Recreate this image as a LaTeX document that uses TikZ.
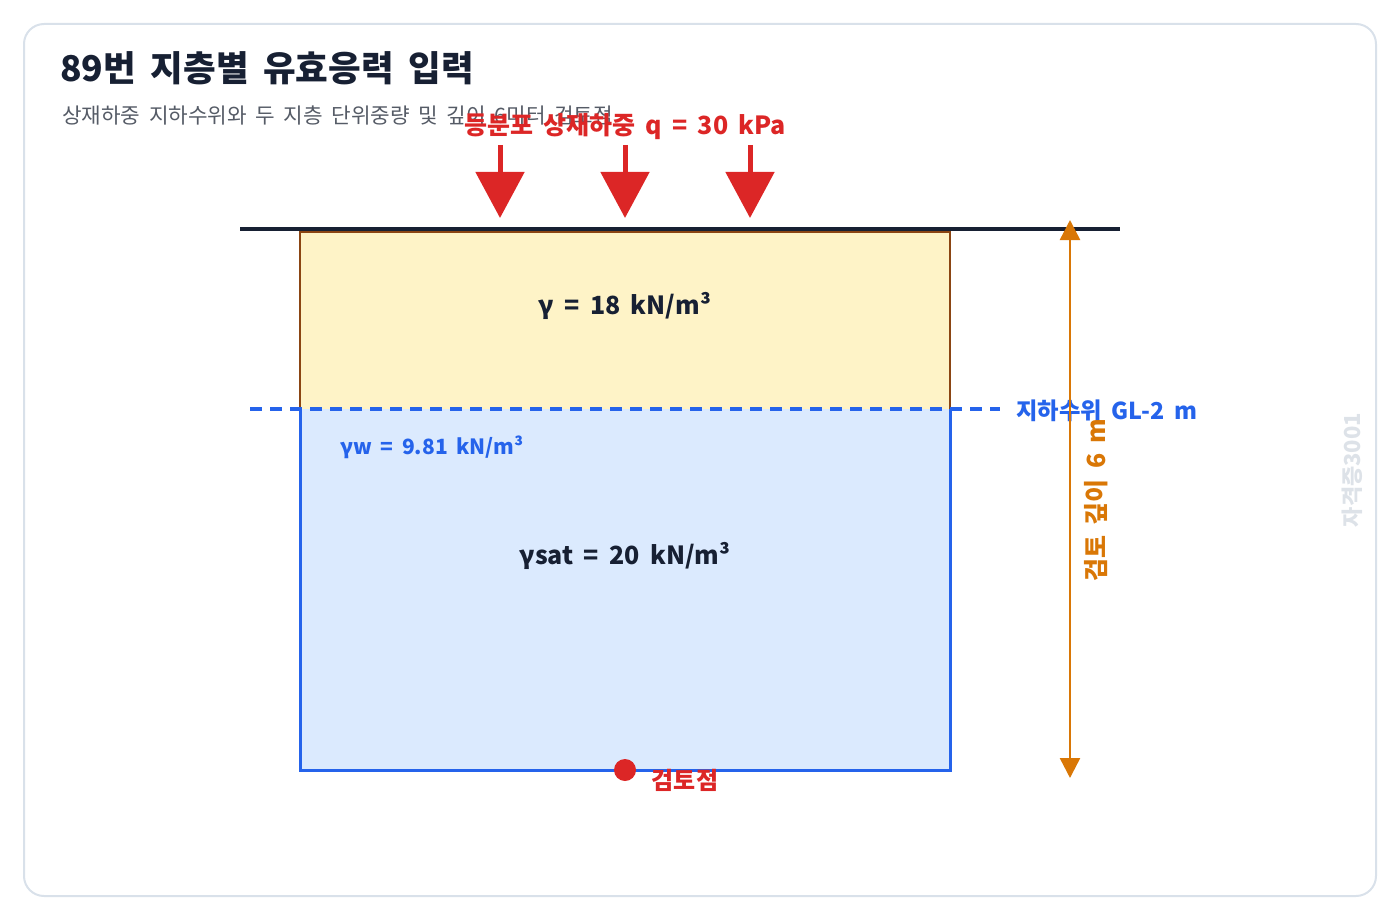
\documentclass[tikz,border=0pt]{standalone}
\usepackage{fontspec}
\setmainfont{Noto Sans CJK KR}[WordSpace=1.8]
\usetikzlibrary{arrows.meta}
\definecolor{cardline}{HTML}{D9E1EA}
\definecolor{ink}{HTML}{172033}
\definecolor{subgray}{HTML}{555B66}
\definecolor{loadred}{HTML}{DC2626}
\definecolor{sandfill}{HTML}{FEF3C7}
\definecolor{sandline}{HTML}{8B4513}
\definecolor{waterfill}{HTML}{DBEAFE}
\definecolor{waterblue}{HTML}{2563EB}
\definecolor{dimorange}{HTML}{D97706}
\definecolor{wmark}{HTML}{DDE2E8}
\tikzset{
  loadarrow/.style={draw=loadred, line width=5pt, -{Triangle[length=46pt,width=48pt]}},
  dimarrow/.style={draw=dimorange, line width=2.5pt, {Triangle[length=20pt,width=20pt]}-{Triangle[length=20pt,width=20pt]}},
  lbl/.style={inner sep=0pt, font=\bfseries},
}
\begin{document}
\begin{tikzpicture}[x=1pt,y=-1pt]
\useasboundingbox (0,0) rectangle (1400,920);
% card
\draw[cardline, line width=2pt, rounded corners=20pt] (24,24) rectangle (1376,896);
% title
\node[anchor=west, inner sep=0pt, text=ink, font=\fontsize{35.5}{38}\selectfont\bfseries] (title) at (60,68) {89번 지층별 유효응력 입력};
\node[anchor=west, inner sep=0pt, text=subgray, font=\fontsize{21.3}{24}\selectfont] (sub) at (62,116) {상재하중 지하수위와 두 지층 단위중량 및 깊이 6미터 검토점};
% layers
\fill[sandfill] (300,231) rectangle (950,409);
\draw[sandline, line width=2.5pt] (300,409) -- (300,231.5) -- (950,231.5) -- (950,409);
\fill[waterfill] (300,409) rectangle (950,770);
\draw[waterblue, line width=3pt] (300,409) -- (300,770) -- (950,770) -- (950,409);
% ground line
\draw[ink, line width=4.5pt] (240,229) -- (1120,229);
% water table
\coordinate (wl0) at (250,409);
\coordinate (wl1) at (1000,409);
\draw[waterblue, line width=4pt, dash pattern=on 12pt off 8pt] (wl0) -- (wl1);
\node[lbl, anchor=west, text=waterblue, font=\fontsize{23.3}{26}\selectfont\bfseries] (wt) at (1016,411) {지하수위 GL-2 m};
% load
\node[lbl, text=loadred, font=\fontsize{25}{28}\selectfont\bfseries] (load) at (625,127) {등분포 상재하중 q = 30 kPa};
\foreach \x/\n in {500/a,625/b,750/c}{
  \coordinate (s\n) at (\x,145);
  \coordinate (e\n) at (\x,218);
  \draw[loadarrow] (s\n) -- (e\n);
}
% layer texts
\node[lbl, text=ink, font=\fontsize{25}{28}\selectfont\bfseries] (g1) at (625,306) {γ = 18 kN/m³};
\node[lbl, anchor=west, text=waterblue, font=\fontsize{21}{24}\selectfont\bfseries] (gw) at (340,447) {γw = 9.81 kN/m³};
\node[lbl, text=ink, font=\fontsize{25}{28}\selectfont\bfseries] (g2) at (625,556) {γsat = 20 kN/m³};
% check point
\node[circle, fill=loadred, minimum size=22pt, inner sep=0pt] (pt) at (625,770) {};
\node[inner sep=0pt, text=loadred, font=\fontsize{24}{27}\selectfont\bfseries] (ptl) at (685,780) {검토점};
% dimension
\coordinate (d0) at (1070,220);
\coordinate (d1) at (1070,778);
\draw[dimarrow] (d0) -- (d1);
\node[lbl, rotate=90, text=dimorange, font=\fontsize{25}{28}\selectfont\bfseries] (dl) at (1096,500) {검토 깊이 6 m};
% watermark
\node[inner sep=0pt, rotate=90, text=wmark, font=\fontsize{22}{25}\selectfont\bfseries] (wm) at (1352,470) {자격증3001};
\end{tikzpicture}
\end{document}
